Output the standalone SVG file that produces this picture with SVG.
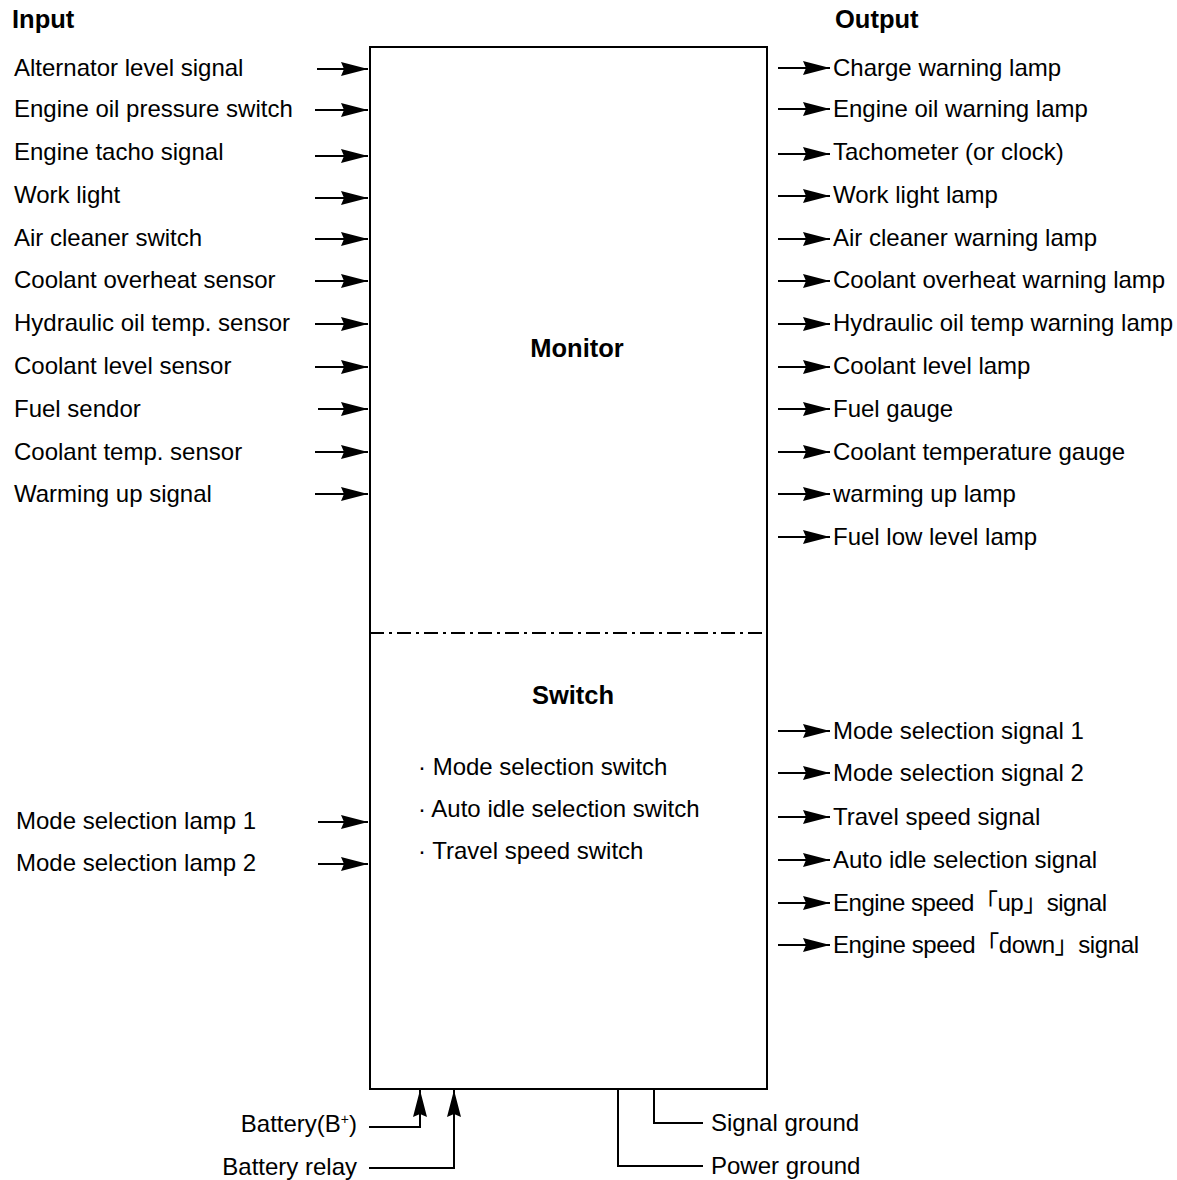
<svg xmlns="http://www.w3.org/2000/svg" width="1177" height="1180" viewBox="0 0 1177 1180">
<style>
text{font-family:"Liberation Sans",Arial,"Noto Sans CJK JP",sans-serif;font-size:24px;fill:#000}
.b{font-weight:bold;font-size:25.5px}
.ln{stroke:#000;stroke-width:2;fill:none}
</style>
<defs>
<marker id="ah" markerUnits="userSpaceOnUse" markerWidth="30" markerHeight="18" refX="27" refY="9" orient="auto" overflow="visible">
<path d="M0,2 L27,9 L0,16 L3,9 Z" fill="#000" stroke="none"/>
</marker>
</defs>
<rect width="1177" height="1180" fill="#fff"/>
<text class="b" x="12" y="28">Input</text>
<text class="b" x="835" y="28">Output</text>
<g id="unit">
<rect class="ln" x="370" y="47" width="397" height="1042"/>
<line x1="370" y1="633" x2="767" y2="633" stroke="#000" stroke-width="2" stroke-dasharray="14,5,3,5"/>
<text class="b" x="577" y="357" text-anchor="middle">Monitor</text>
<text class="b" x="573" y="704" text-anchor="middle">Switch</text>
<text x="418" y="775">· Mode selection switch</text>
<text x="418" y="817">· Auto idle selection switch</text>
<text x="418" y="859">· Travel speed switch</text>
</g>
<g id="inputs">
<text x="14" y="76">Alternator level signal</text>
<text x="14" y="117">Engine oil pressure switch</text>
<text x="14" y="160">Engine tacho signal</text>
<text x="14" y="203">Work light</text>
<text x="14" y="246">Air cleaner switch</text>
<text x="14" y="288">Coolant overheat sensor</text>
<text x="14" y="331">Hydraulic oil temp. sensor</text>
<text x="14" y="374">Coolant level sensor</text>
<text x="14" y="417">Fuel sendor</text>
<text x="14" y="460">Coolant temp. sensor</text>
<text x="14" y="502">Warming up signal</text>
<text x="16" y="829">Mode selection lamp 1</text>
<text x="16" y="871">Mode selection lamp 2</text>
</g>
<g id="outputs">
<text x="833" y="76">Charge warning lamp</text>
<text x="833" y="117">Engine oil warning lamp</text>
<text x="833" y="160">Tachometer (or clock)</text>
<text x="833" y="203">Work light lamp</text>
<text x="833" y="246">Air cleaner warning lamp</text>
<text x="833" y="288">Coolant overheat warning lamp</text>
<text x="833" y="331">Hydraulic oil temp warning lamp</text>
<text x="833" y="374">Coolant level lamp</text>
<text x="833" y="417">Fuel gauge</text>
<text x="833" y="460">Coolant temperature gauge</text>
<text x="833" y="502">warming up lamp</text>
<text x="833" y="545">Fuel low level lamp</text>
<text x="833" y="739">Mode selection signal 1</text>
<text x="833" y="781">Mode selection signal 2</text>
<text x="833" y="825">Travel speed signal</text>
<text x="833" y="868">Auto idle selection signal</text>
<text x="833" y="911" textLength="274" lengthAdjust="spacing">Engine speed「up」signal</text>
<text x="833" y="953" textLength="306" lengthAdjust="spacing">Engine speed「down」signal</text>
</g>
<g id="power">
<text x="357" y="1132" text-anchor="end">Battery(B<tspan font-size="14" dy="-8">+</tspan><tspan dy="8">)</tspan></text>
<text x="357" y="1175" text-anchor="end">Battery relay</text>
<text x="711" y="1131">Signal ground</text>
<text x="711" y="1174">Power ground</text>
</g>
<g id="connectors" class="ln">
<line x1="317" y1="69" x2="368" y2="69" marker-end="url(#ah)"/>
<line x1="315" y1="110" x2="368" y2="110" marker-end="url(#ah)"/>
<line x1="315" y1="156" x2="368" y2="156" marker-end="url(#ah)"/>
<line x1="315" y1="198" x2="368" y2="198" marker-end="url(#ah)"/>
<line x1="315" y1="239" x2="368" y2="239" marker-end="url(#ah)"/>
<line x1="315" y1="281" x2="368" y2="281" marker-end="url(#ah)"/>
<line x1="315" y1="324" x2="368" y2="324" marker-end="url(#ah)"/>
<line x1="315" y1="367" x2="368" y2="367" marker-end="url(#ah)"/>
<line x1="318" y1="409" x2="368" y2="409" marker-end="url(#ah)"/>
<line x1="315" y1="452" x2="368" y2="452" marker-end="url(#ah)"/>
<line x1="315" y1="494" x2="368" y2="494" marker-end="url(#ah)"/>
<line x1="318" y1="822" x2="368" y2="822" marker-end="url(#ah)"/>
<line x1="318" y1="864" x2="368" y2="864" marker-end="url(#ah)"/>
<line x1="778" y1="68" x2="830" y2="68" marker-end="url(#ah)"/>
<line x1="778" y1="109" x2="830" y2="109" marker-end="url(#ah)"/>
<line x1="778" y1="154" x2="830" y2="154" marker-end="url(#ah)"/>
<line x1="778" y1="196" x2="830" y2="196" marker-end="url(#ah)"/>
<line x1="778" y1="239" x2="830" y2="239" marker-end="url(#ah)"/>
<line x1="778" y1="281" x2="830" y2="281" marker-end="url(#ah)"/>
<line x1="778" y1="324" x2="830" y2="324" marker-end="url(#ah)"/>
<line x1="778" y1="367" x2="830" y2="367" marker-end="url(#ah)"/>
<line x1="778" y1="409" x2="830" y2="409" marker-end="url(#ah)"/>
<line x1="778" y1="452" x2="830" y2="452" marker-end="url(#ah)"/>
<line x1="778" y1="494" x2="830" y2="494" marker-end="url(#ah)"/>
<line x1="778" y1="537" x2="830" y2="537" marker-end="url(#ah)"/>
<line x1="778" y1="731" x2="830" y2="731" marker-end="url(#ah)"/>
<line x1="778" y1="773" x2="830" y2="773" marker-end="url(#ah)"/>
<line x1="778" y1="817" x2="830" y2="817" marker-end="url(#ah)"/>
<line x1="778" y1="860" x2="830" y2="860" marker-end="url(#ah)"/>
<line x1="778" y1="903" x2="830" y2="903" marker-end="url(#ah)"/>
<line x1="778" y1="945" x2="830" y2="945" marker-end="url(#ah)"/>
<polyline points="369,1127 420,1127 420,1090" marker-end="url(#ah)"/>
<polyline points="369,1168 454,1168 454,1090" marker-end="url(#ah)"/>
<polyline points="654,1089 654,1123 703,1123"/>
<polyline points="618,1089 618,1166 703,1166"/>
</g>
</svg>
